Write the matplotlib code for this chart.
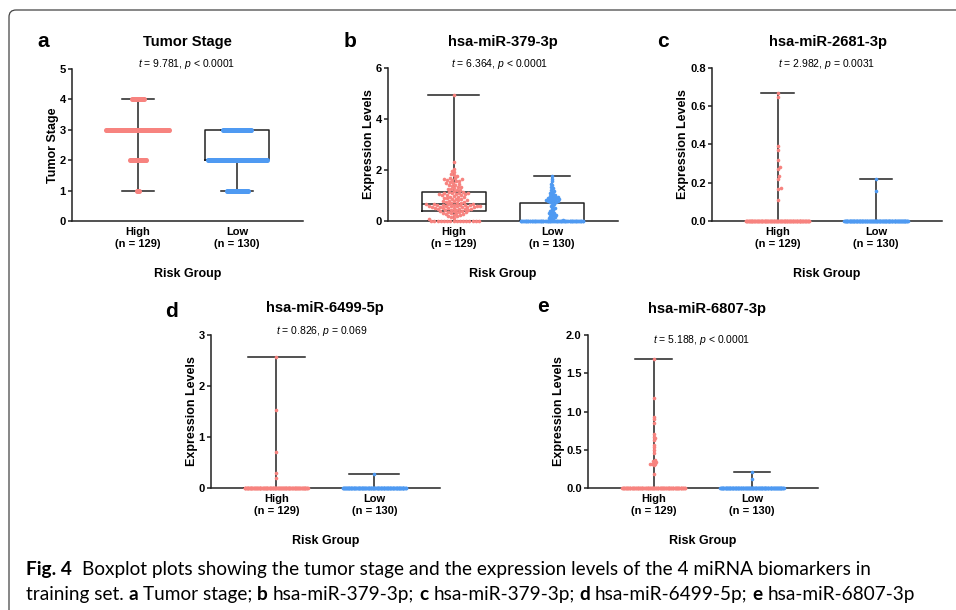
import matplotlib
matplotlib.use('Agg')
import matplotlib.pyplot as plt
from matplotlib.patches import FancyBboxPatch
from matplotlib.transforms import IdentityTransform
import numpy as np

W, H = 956, 610
PINK = '#F7837F'
BLUE = '#4F9AF2'
INK = '#222222'
FONT = ['Liberation Sans', 'DejaVu Sans']
CAPTION_FONT = ['Lato', 'Liberation Sans', 'DejaVu Sans']

group_labels = ['High\n(n = 129)', 'Low\n(n = 130)']

# a - tumor stage, number of patients per stage
tumor_stages = [1, 2, 3, 4]
stage_high_counts = [3, 20, 91, 15]
stage_low_counts = [26, 70, 34, 0]

# b - hsa-miR-379-3p
mir379_high = [
    0, 0, 0, 0, 0, 0, 0, 0, 0, 0, 0, 0, 0, 0, 0, 0,
    0.08, 0.12, 0.15, 0.18, 0.2, 0.22, 0.25, 0.27, 0.28, 0.3, 0.31, 0.33,
    0.34, 0.35, 0.37, 0.38, 0.4,
    0.41, 0.42, 0.43, 0.44, 0.45, 0.46, 0.47, 0.48, 0.49, 0.5, 0.5, 0.51,
    0.52, 0.53, 0.54, 0.55, 0.55, 0.56, 0.57, 0.58, 0.58, 0.59, 0.6, 0.6,
    0.61, 0.62, 0.62, 0.63, 0.64, 0.64, 0.65,
    0.66, 0.67, 0.68, 0.7, 0.71, 0.72, 0.74, 0.75, 0.77, 0.78, 0.8, 0.81,
    0.83, 0.85, 0.86, 0.88, 0.9, 0.91, 0.93, 0.95, 0.96, 0.98, 1.0, 1.01,
    1.03, 1.04, 1.06, 1.07, 1.08, 1.09, 1.1, 1.11, 1.12,
    1.15, 1.18, 1.2, 1.22, 1.25, 1.27, 1.3, 1.32, 1.35, 1.38, 1.4, 1.42,
    1.45, 1.48, 1.5, 1.52, 1.55, 1.57, 1.6, 1.62, 1.63, 1.65, 1.68, 1.7,
    1.75, 1.8, 1.85, 1.92, 1.98, 2.05, 2.3, 4.95]
mir379_low_zeros = 76
mir379_low_nonzero = [
    0.05, 0.08, 0.1, 0.12, 0.15, 0.18, 0.2, 0.22, 0.25, 0.28, 0.3, 0.33,
    0.36, 0.4, 0.43, 0.47, 0.5, 0.55, 0.6, 0.64, 0.68,
    0.72, 0.74, 0.75, 0.77, 0.78, 0.8, 0.81, 0.82, 0.84, 0.85, 0.86, 0.88,
    0.89, 0.9, 0.92, 0.93, 0.95, 0.97, 0.99, 1.01, 1.04, 1.07, 1.1, 1.14,
    1.18, 1.22, 1.28, 1.33, 1.4, 1.47, 1.55, 1.65, 1.75]

# c - hsa-miR-2681-3p
mir2681_high_zeros = 117
mir2681_high_nonzero = [0.67, 0.65, 0.39, 0.37, 0.32, 0.28, 0.27, 0.235,
                        0.22, 0.17, 0.165, 0.11]
mir2681_low_zeros = 128
mir2681_low_nonzero = [0.22, 0.155]

# d - hsa-miR-6499-5p
mir6499_high_zeros = 124
mir6499_high_nonzero = [2.57, 1.52, 0.71, 0.30, 0.20]
mir6499_low_zeros = 129
mir6499_low_nonzero = [0.27]

# e - hsa-miR-6807-3p
mir6807_high_zeros = 107
mir6807_high_nonzero = [1.68, 1.18, 0.93, 0.90, 0.85, 0.70, 0.67, 0.65,
                        0.63, 0.56, 0.53, 0.50, 0.46, 0.36, 0.35, 0.34,
                        0.33, 0.32, 0.32, 0.31, 0.30, 0.18]
mir6807_low_zeros = 128
mir6807_low_nonzero = [0.21, 0.12]


def fx(x):
    return x / W


def fy(y):
    return 1 - y / H


def with_zeros(n_zeros, values):
    '''Group made of a run of zeros plus the non-zero values'''
    return [0.0] * n_zeros + list(values)


def beeswarm(values, y_scale, sep, half_width):
    '''Horizontal offsets (pixels) so that dots do not overlap'''
    vals = np.asarray(values, float)
    xs = np.zeros(len(vals))
    px, py = [], []
    phase = 0.0
    for i in np.argsort(vals, kind='stable'):
        y = vals[i] * y_scale
        cand = np.array([0.0])
        if px:
            ax_, ay_ = np.array(px), np.array(py)
            m = np.abs(ay_ - y) < sep
            nx, ny = ax_[m], ay_[m]
            if len(nx):
                dx = np.sqrt(np.maximum(sep ** 2 - (ny - y) ** 2, 0))
                cand = np.concatenate([[0.0], nx + dx, nx - dx])
                cand = cand[np.abs(cand) <= half_width + 1e-9]
                if len(cand):
                    d2 = (cand[:, None] - nx[None, :]) ** 2 + (y - ny) ** 2
                    cand = cand[np.all(d2 >= sep ** 2 - 1e-6, axis=1)]
        if len(cand):
            x = cand[np.argmin(np.abs(cand))]
        else:
            # band is full: spread the rest over the box width
            phase = (phase + 0.618034) % 1
            x = (2 * phase - 1) * half_width
        xs[i] = x
        px.append(x)
        py.append(y)
    return xs


def draw_panel(fig, cfg, groups):
    left, top, right, bottom = cfg['box']
    ax = fig.add_axes([fx(left), fy(bottom), fx(right - left),
                       (bottom - top) / H])
    ymax = cfg['yticks'][-1]
    ax.set_xlim(-0.665, 1.668)
    ax.set_ylim(0, ymax)

    line = dict(color=INK, linewidth=1.1)
    ax.boxplot(groups, positions=[0, 1], widths=0.65, whis=(0, 100),
               showfliers=False, capwidths=cfg['caps'],
               boxprops=line, whiskerprops=line, capprops=line,
               medianprops=line)

    # dots
    y_scale = (bottom - top) / ymax
    for pos, vals, col, sep in zip([0, 1], groups, [PINK, BLUE], cfg['sep']):
        offs = beeswarm(vals, y_scale, sep, 32)
        ax.scatter(pos + offs / 99.0, vals, s=cfg['dot'], color=col,
                   linewidths=0, zorder=3, clip_on=False)

    for s in ['top', 'right']:
        ax.spines[s].set_visible(False)
    for s in ['left', 'bottom']:
        ax.spines[s].set_linewidth(1.1)
        ax.spines[s].set_color(INK)

    ax.set_xticks([0, 1])
    ax.set_xticklabels(group_labels, fontsize=8, fontweight='bold',
                       family=FONT)
    ax.set_yticks(cfg['yticks'])
    ax.set_yticklabels([cfg['fmt'].format(v) for v in cfg['yticks']],
                       fontsize=8, fontweight='bold', family=FONT)
    ax.tick_params(axis='x', length=0, pad=4.5)
    ax.tick_params(axis='y', length=3, width=1.1, pad=1.5, color=INK)
    ax.set_ylabel(cfg['ylabel'], fontsize=9, fontweight='bold', family=FONT,
                  labelpad=0.5)
    ax.set_xlabel('Risk Group', fontsize=9, fontweight='bold',
                  family=FONT, labelpad=14)

    # letter, title and test result
    lx, ly = cfg['letter_xy']
    fig.text(fx(lx), fy(ly), cfg['letter'], fontsize=15, fontweight='bold',
             family=FONT, ha='center', va='baseline')
    tx, ty = cfg['title_xy']
    fig.text(fx(tx), fy(ty), cfg['title'], fontsize=10.6, fontweight='bold',
             family=FONT, ha='center', va='baseline')
    sx, sy = cfg['stat_xy']
    fig.text(fx(sx), fy(sy), cfg['stat'], fontsize=7.5, family=FONT,
             ha='center', va='baseline')
    return ax


def draw_caption(fig, x0, y0, runs, size):
    '''Writes a line of mixed bold / normal runs'''
    renderer = fig.canvas.get_renderer()
    probe = fig.text(0, 0, 'a a', fontsize=size, family=CAPTION_FONT)
    w1 = probe.get_window_extent(renderer).width
    probe.set_text('aa')
    space = w1 - probe.get_window_extent(renderer).width
    probe.remove()
    x = x0
    for text, bold, gap in runs:
        t = fig.text(fx(x), fy(y0), text, fontsize=size, family=CAPTION_FONT,
                     fontweight='bold' if bold else 'normal',
                     ha='left', va='baseline')
        x += t.get_window_extent(renderer).width + space * gap


def main():
    plt.rcParams['mathtext.fontset'] = 'custom'
    plt.rcParams['mathtext.it'] = 'Liberation Sans:italic'
    plt.rcParams['mathtext.rm'] = 'Liberation Sans'

    fig = plt.figure(figsize=(W / 100, H / 100), dpi=100)

    # outer frame with rounded top-left corner
    frame = FancyBboxPatch((9, -60), 1100, H - 10 + 60,
                           boxstyle='round,pad=0,rounding_size=7',
                           transform=IdentityTransform(), facecolor='none',
                           edgecolor='#444444', linewidth=0.9)
    fig.add_artist(frame)

    panels = [
        dict(letter='a', title='Tumor Stage', stat=r'$t$ = 9.781, $p$ < 0.0001',
             ylabel='Tumor Stage', yticks=[0, 1, 2, 3, 4, 5], fmt='{:d}',
             box=(72, 69, 303, 221), caps=[0.33, 0.33], sep=[0.85, 0.85],
             dot=13, letter_xy=(43, 47), title_xy=(187, 46),
             stat_xy=(187, 67)),
        dict(letter='b', title='hsa-miR-379-3p',
             stat=r'$t$ = 6.364, $p$ < 0.0001',
             ylabel='Expression Levels', yticks=[0, 2, 4, 6], fmt='{:d}',
             box=(388, 68, 618, 221), caps=[0.52, 0.37], sep=[3.2, 2.2],
             dot=6.8, letter_xy=(350, 47), title_xy=(503, 46),
             stat_xy=(500, 67)),
        dict(letter='c', title='hsa-miR-2681-3p',
             stat=r'$t$ = 2.982, $p$ = 0.0031',
             ylabel='Expression Levels', yticks=[0, 0.2, 0.4, 0.6, 0.8],
             fmt='{:.1f}', box=(712, 68, 942, 221), caps=[0.34, 0.32],
             sep=[3.2, 3.2], dot=6.8, letter_xy=(663, 47),
             title_xy=(828, 46), stat_xy=(827, 67)),
        dict(letter='d', title='hsa-miR-6499-5p',
             stat=r'$t$ = 0.826, $p$ = 0.069',
             ylabel='Expression Levels', yticks=[0, 1, 2, 3], fmt='{:d}',
             box=(211, 335, 440, 488), caps=[0.58, 0.51], sep=[3.2, 3.2],
             dot=6.8, letter_xy=(172, 317), title_xy=(325, 312),
             stat_xy=(322, 334)),
        dict(letter='e', title='hsa-miR-6807-3p',
             stat=r'$t$ = 5.188, $p$ < 0.0001',
             ylabel='Expression Levels', yticks=[0, 0.5, 1.0, 1.5, 2.0],
             fmt='{:.1f}', box=(588, 335, 818, 488), caps=[0.38, 0.36],
             sep=[2.0, 3.2], dot=6.8, letter_xy=(543, 312),
             title_xy=(707, 313), stat_xy=(702, 343)),
    ]

    data = [
        [np.repeat(tumor_stages, stage_high_counts).tolist(),
         np.repeat(tumor_stages, stage_low_counts).tolist()],
        [mir379_high, with_zeros(mir379_low_zeros, mir379_low_nonzero)],
        [with_zeros(mir2681_high_zeros, mir2681_high_nonzero),
         with_zeros(mir2681_low_zeros, mir2681_low_nonzero)],
        [with_zeros(mir6499_high_zeros, mir6499_high_nonzero),
         with_zeros(mir6499_low_zeros, mir6499_low_nonzero)],
        [with_zeros(mir6807_high_zeros, mir6807_high_nonzero),
         with_zeros(mir6807_low_zeros, mir6807_low_nonzero)],
    ]

    for cfg, groups in zip(panels, data):
        draw_panel(fig, cfg, groups)

    # figure caption
    line1 = [('Fig. 4', True, 2),
             ('Boxplot plots showing the tumor stage and the expression '
              'levels of the 4 miRNA biomarkers in', False, 1)]
    line2 = [('training set.', False, 1), ('a', True, 1),
             ('Tumor stage;', False, 1), ('b', True, 1),
             ('hsa-miR-379-3p;', False, 1), ('c', True, 1),
             ('hsa-miR-379-3p;', False, 1), ('d', True, 1),
             ('hsa-miR-6499-5p;', False, 1), ('e', True, 1),
             ('hsa-miR-6807-3p', False, 1)]
    draw_caption(fig, 26, 575, line1, 13.7)
    draw_caption(fig, 26, 600, line2, 13.7)

    fig.savefig('out.png', dpi=100)


if __name__ == '__main__':
    main()
